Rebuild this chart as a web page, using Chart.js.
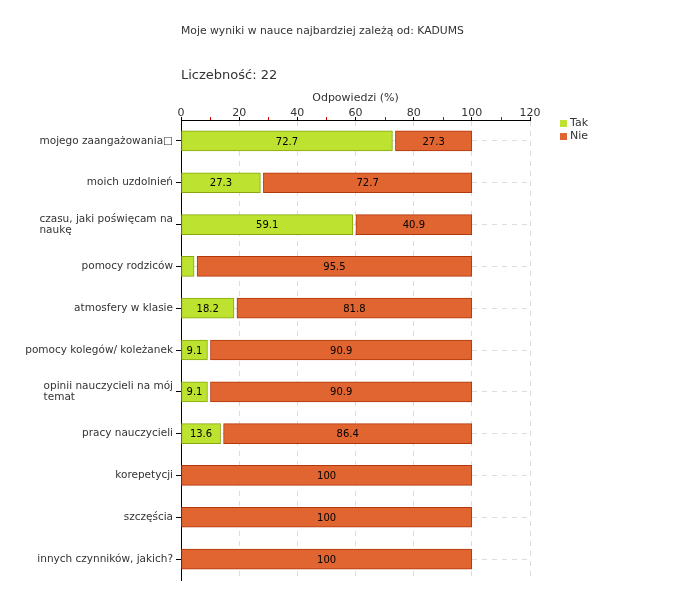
<!DOCTYPE html>
<html>
<head>
<meta charset="utf-8">
<script src="https://cdn.jsdelivr.net/npm/chart.js@4.4.1/dist/chart.umd.min.js"></script>
<style>
body { margin: 0; background: #fff; font-family: "DejaVu Sans", sans-serif; }
#wrap { position: relative; width: 680px; height: 600px; }
#chart { position: absolute; left: 0; top: 0; }
.txt { position: absolute; white-space: nowrap; color: #333; }
</style>
</head>
<body>
<div id="wrap">
  <canvas id="chart" width="680" height="600"></canvas>
  <div class="txt" style="left:181px; top:24px; font-size:10.8px;">Moje wyniki w nauce najbardziej zależą od: KADUMS</div>
  <div class="txt" style="left:181px; top:67px; font-size:13px;">Liczebność: 22</div>
</div>
<script>
// dane z wykresu
const categories = [
    ['mojego zaangażowania\u25A1'],
    ['moich uzdolnień'],
    ['czasu, jaki poświęcam na', 'naukę'],
    ['pomocy rodziców'],
    ['atmosfery w klasie'],
    ['pomocy kolegów/ koleżanek'],
    ['opinii nauczycieli na mój', 'temat'],
    ['pracy nauczycieli'],
    ['korepetycji'],
    ['szczęścia'],
    ['innych czynników, jakich?']
];
const takValues = [72.7, 27.3, 59.1, 4.5, 18.2, 9.1, 9.1, 13.6, 0, 0, 0];
const nieValues = [27.3, 72.7, 40.9, 95.5, 81.8, 90.9, 90.9, 86.4, 100, 100, 100];
const seriesNames = ['Tak', 'Nie'];
const xMajorTicks = [0, 20, 40, 60, 80, 100, 120];
const xMinorTicks = [10, 30, 50, 70, 90, 110];
const axisTitle = 'Odpowiedzi (%)';

const FONT = '"DejaVu Sans", sans-serif';

// rysowanie etykiet, legendy, drobnych znaczników
const customDraw = {
    id: 'customDraw',
    beforeDatasetDraw(chart, args) {
        // odstęp między segmentem "Tak" a "Nie"
        if (args.index !== 1) return;
        const xs = chart.scales.x;
        args.meta.data.forEach((el, i) => {
            if (takValues[i] > 0) el.base = xs.getPixelForValue(takValues[i]) + 3;
        });
    },
    afterDatasetsDraw(chart) {
        const ctx = chart.ctx;
        ctx.save();
        ctx.font = '10px ' + FONT;
        ctx.fillStyle = '#000';
        ctx.textAlign = 'center';
        ctx.textBaseline = 'middle';
        chart.data.datasets.forEach((ds, di) => {
            chart.getDatasetMeta(di).data.forEach((el, i) => {
                const v = ds.data[i];
                if (!v || v < 5) return;
                ctx.fillText(String(v), (el.x + el.base) / 2, el.y + 1);
            });
        });
        ctx.restore();
    },
    afterDraw(chart) {
        const ctx = chart.ctx;
        const xs = chart.scales.x;
        const ys = chart.scales.y;
        const area = chart.chartArea;
        ctx.save();

        // czerwone znaczniki pomocnicze
        ctx.strokeStyle = '#e00000';
        ctx.lineWidth = 1;
        xMinorTicks.forEach(v => {
            const px = Math.round(xs.getPixelForValue(v)) + 0.5;
            ctx.beginPath();
            ctx.moveTo(px, area.top - 3);
            ctx.lineTo(px, area.top);
            ctx.stroke();
        });

        // tytuł osi
        ctx.fillStyle = '#333';
        ctx.font = '11px ' + FONT;
        ctx.textAlign = 'center';
        ctx.textBaseline = 'middle';
        ctx.fillText(axisTitle, (area.left + area.right) / 2, area.top - 22);

        // etykiety kategorii: linie wyrównane do lewej, blok do prawej
        ctx.font = '10.5px ' + FONT;
        ctx.textAlign = 'left';
        const lineH = 11;
        categories.forEach((lines, i) => {
            const y = ys.getPixelForTick(i);
            const w = Math.max(...lines.map(l => ctx.measureText(l).width));
            const x0 = area.left - 8 - w;
            const y0 = y - (lines.length - 1) * lineH / 2;
            lines.forEach((l, j) => ctx.fillText(l, x0, y0 + j * lineH));
        });

        // legenda
        ctx.font = '11px ' + FONT;
        chart.data.datasets.forEach((ds, di) => {
            const ly = 123 + di * 13;
            ctx.fillStyle = ds.backgroundColor;
            ctx.fillRect(560, ly - 3, 7, 7);
            ctx.fillStyle = '#333';
            ctx.fillText(ds.label, 570, ly);
        });
        ctx.restore();
    }
};

new Chart(document.getElementById('chart'), {
    type: 'bar',
    data: {
        labels: categories,
        datasets: [
            {
                label: seriesNames[0],
                data: takValues.map(v => v || null),
                backgroundColor: '#bde22f',
                borderColor: '#88a70f',
                borderWidth: 1,
                borderSkipped: false,
                barThickness: 20
            },
            {
                label: seriesNames[1],
                data: nieValues,
                backgroundColor: '#e06530',
                borderColor: '#b2370b',
                borderWidth: 1,
                borderSkipped: false,
                barThickness: 20
            }
        ]
    },
    options: {
        indexAxis: 'y',
        responsive: false,
        animation: false,
        events: [],
        layout: { padding: { left: 0, top: 0, right: 150, bottom: 20 } },
        plugins: { legend: { display: false }, tooltip: { enabled: false } },
        scales: {
            x: {
                position: 'top',
                stacked: true,
                min: 0,
                max: 120,
                afterBuildTicks: axis => { axis.ticks = xMajorTicks.map(v => ({ value: v })); },
                afterFit: axis => { axis.height = 120; },
                ticks: { color: '#333', font: { family: FONT, size: 11 }, padding: -3 },
                grid: {
                    color: '#dcdcdc',
                    tickColor: '#000',
                    tickLength: 3,
                    tickBorderDash: [],
                    lineWidth: 1
                },
                border: { display: true, color: '#000', dash: [5, 5] }
            },
            y: {
                stacked: true,
                afterFit: axis => { axis.width = 181; },
                ticks: { display: false },
                grid: {
                    offset: false,
                    color: '#dcdcdc',
                    tickColor: '#000',
                    tickLength: 5,
                    tickBorderDash: []
                },
                border: { display: true, color: '#000', dash: [5, 5] }
            }
        }
    },
    plugins: [customDraw]
});
</script>
</body>
</html>
